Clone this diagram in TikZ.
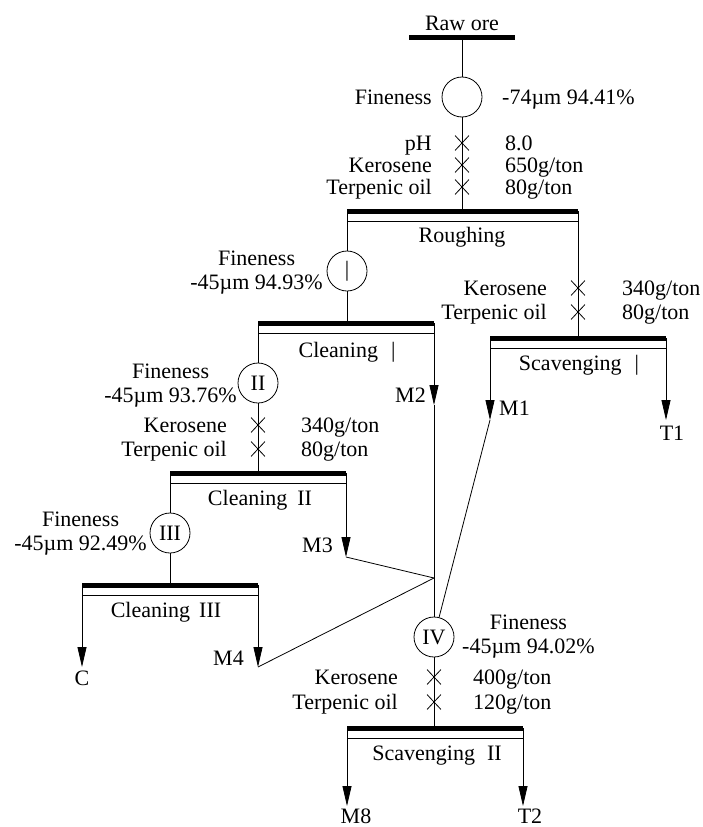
\documentclass[tikz,border=0pt]{standalone}
\usepackage{fontspec}
\setmainfont{Liberation Serif}
\usetikzlibrary{arrows.meta,shapes.misc}
\newcommand\figfont{\fontsize{22}{24}\selectfont}
\tikzset{
  ln/.style={line width=0.8pt},
  barline/.style={line width=5pt},
  arr/.style={ln,-{Triangle[length=20pt,width=9pt]}},
  txt/.style={inner sep=0pt,font=\figfont},
  L/.style={txt,anchor=base east,yshift=-7pt},
  R/.style={txt,anchor=base west,yshift=-7pt},
  C/.style={txt,anchor=base,yshift=-7pt},
  ML/.style={txt,align=center,anchor=east},
  MR/.style={txt,align=center,anchor=west},
  circ/.style={circle,draw,line width=0.8pt,minimum size=40pt,inner sep=0pt,font=\figfont},
  xm/.style={cross out,draw,line width=0.8pt,minimum width=13pt,minimum height=14pt,inner sep=0pt},
}
\newcommand\cellbar[4]{% name, xl, xr, y
  \coordinate (#1L) at (#2,#4);
  \coordinate (#1R) at (#3,#4);
  \draw[barline] (#1L) -- (#1R);
  \draw[ln] (#2,#4+10) -- (#3,#4+10);
}
\begin{document}
\begin{tikzpicture}[x=1pt,y=-1pt]
\useasboundingbox (0,0) rectangle (702,827);

% ---------- Raw ore ----------
\node[C] (raw) at (462,23) {Raw ore};
\coordinate (rawL) at (409,37);
\coordinate (rawR) at (515,37);
\coordinate (rawM) at (462,37);
\draw[barline] (rawL) -- (rawR);

\node[circ] (c0) at (462,97) {};
\node[L] (f0) at (432,97) {Fineness};
\node[R] (v0) at (502,97) {-74µm 94.41\%};

\node[xm] (x01) at (462,143) {};
\node[xm] (x02) at (462,165) {};
\node[xm] (x03) at (462,187) {};
\node[L] (l01) at (432,143) {pH};
\node[L] (l02) at (432,165) {Kerosene};
\node[L] (l03) at (432,187) {Terpenic oil};
\node[R] (v01) at (505,143) {8.0};
\node[R] (v02) at (505,165) {650g/ton};
\node[R] (v03) at (505,187) {80g/ton};

% ---------- Roughing ----------
\cellbar{rgh}{347}{578}{211}
\coordinate (rghM) at (462,211);
\node[C] (rghT) at (462,235) {Roughing};

% ---------- Circle I ----------
\node[circ] (c1) at (347,271) {|};
\node[ML] (f1) at (323,273) {Fineness\\-45µm 94.93\%};

% ---------- Scavenging I ----------
\node[xm] (x11) at (578,288) {};
\node[xm] (x12) at (578,312) {};
\node[L] (l11) at (547,288) {Kerosene};
\node[L] (l12) at (547,312) {Terpenic oil};
\node[R] (v11) at (622,288) {340g/ton};
\node[R] (v12) at (622,312) {80g/ton};
\cellbar{sc1}{490}{666}{338}
\coordinate (sc1M) at (578,338);
\node[C] (sc1T) at (579,363) {Scavenging\hspace{13pt}|};

% ---------- Cleaning I ----------
\cellbar{cl1}{258}{434}{323}
\coordinate (cl1M) at (347,323);
\node[C] (cl1T) at (347,350) {Cleaning\hspace{13pt}|};

% ---------- Circle II ----------
\node[circ] (c2) at (258,383) {II};
\node[ML] (f2) at (237,386) {Fineness\\-45µm 93.76\%};
\node[xm] (x21) at (258,425) {};
\node[xm] (x22) at (258,449) {};
\node[L] (l21) at (227,425) {Kerosene};
\node[L] (l22) at (227,449) {Terpenic oil};
\node[R] (v21) at (301,425) {340g/ton};
\node[R] (v22) at (301,449) {80g/ton};

% ---------- Cleaning II ----------
\cellbar{cl2}{170}{346}{473}
\coordinate (cl2M) at (258,473);
\node[C] (cl2T) at (260,498) {Cleaning\hspace{10pt}II};

% ---------- Circle III ----------
\node[circ] (c3) at (170,533) {III};
\node[ML] (f3) at (147,534) {Fineness\\-45µm 92.49\%};

% ---------- Cleaning III ----------
\cellbar{cl3}{82}{258}{585}
\coordinate (cl3M) at (170,585);
\node[C] (cl3T) at (166,610) {Cleaning\hspace{9pt}III};

% ---------- Circle IV ----------
\node[circ] (c4) at (434,637) {IV};
\node[MR] (f4) at (462,637) {Fineness\\-45µm 94.02\%};
\node[xm] (x41) at (434,677) {};
\node[xm] (x42) at (434,702) {};
\node[L] (l41) at (398,677) {Kerosene};
\node[L] (l42) at (398,702) {Terpenic oil};
\node[R] (v41) at (473,677) {400g/ton};
\node[R] (v42) at (473,702) {120g/ton};

% ---------- Scavenging II ----------
\cellbar{sc2}{347}{523}{728}
\coordinate (sc2M) at (434,728);
\node[C] (sc2T) at (437,753) {Scavenging\hspace{12pt}II};

% ---------- arrow tips and junction ----------
\coordinate (m2tip) at (434,405);
\coordinate (m1tip) at (490,420);
\coordinate (t1tip) at (666,420);
\coordinate (m3tip) at (346,557);
\coordinate (ctip) at (82,667);
\coordinate (m4tip) at (258,667);
\coordinate (m8tip) at (347,806);
\coordinate (t2tip) at (523,806);
\coordinate (j) at (434,578);

\node[L] (m2) at (426,395) {M2};
\node[R] (m1) at (499,408) {M1};
\node[C] (t1) at (672,433) {T1};
\node[L] (m3) at (333,545) {M3};
\node[L] (m4) at (244,658) {M4};
\node[C] (cc) at (82,678) {C};
\node[C] (m8) at (356,816) {M8};
\node[C] (t2) at (530,816) {T2};

% ---------- connectors ----------
\draw[ln] (rawM) -- (c0);
\draw[ln] (c0) -- (rghM);
\draw[ln] (rghL) -- (c1);
\draw[ln] (c1) -- (cl1M);
\draw[ln] (rghR) -- (sc1M);
\draw[ln] (cl1L) -- (c2);
\draw[ln] (c2) -- (cl2M);
\draw[arr] (cl1R) -- (m2tip);
\draw[ln] (m2tip) -- (c4);
\draw[arr] (sc1L) -- (m1tip);
\draw[ln] (m1tip) -- (c4);
\draw[arr] (sc1R) -- (t1tip);
\draw[ln] (cl2L) -- (c3);
\draw[ln] (c3) -- (cl3M);
\draw[arr] (cl2R) -- (m3tip);
\draw[ln] (m3tip) -- (j);
\draw[arr] (cl3L) -- (ctip);
\draw[arr] (cl3R) -- (m4tip);
\draw[ln] (m4tip) -- (j);
\draw[ln] (c4) -- (sc2M);
\draw[arr] (sc2L) -- (m8tip);
\draw[arr] (sc2R) -- (t2tip);
\end{tikzpicture}
\end{document}
